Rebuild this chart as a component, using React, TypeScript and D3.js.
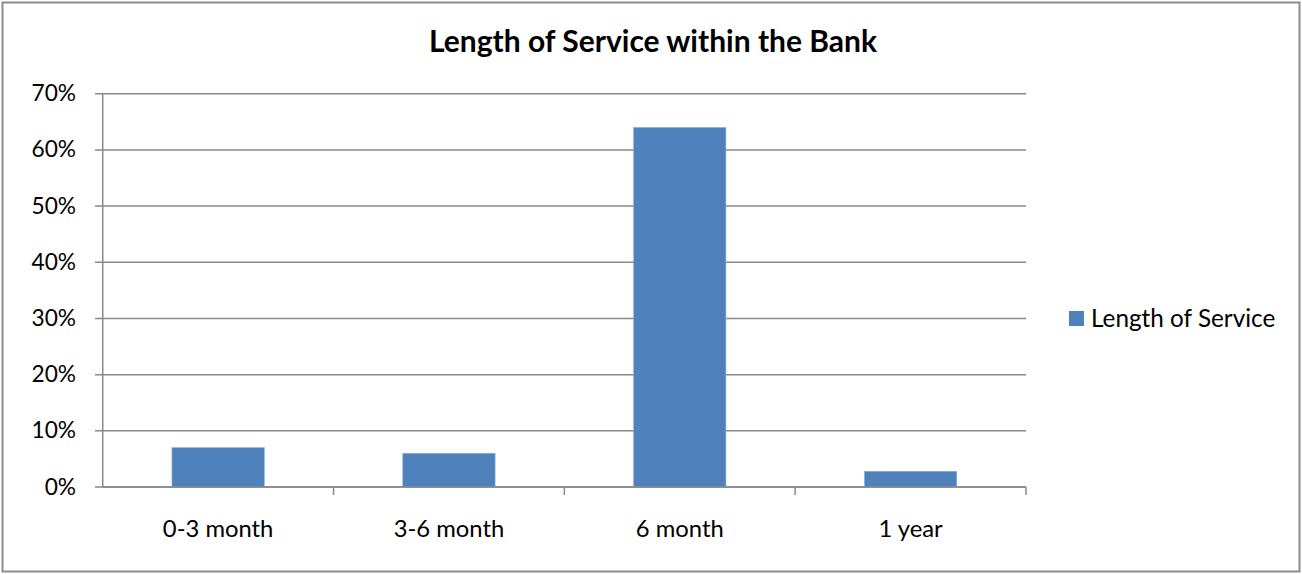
import React from "react";
import * as d3 from "d3";

const categories = ["0-3 month", "3-6 month", "6 month", "1 year"];
const values = [0.07, 0.06, 0.64, 0.028];
const yTicks = [0, 0.1, 0.2, 0.3, 0.4, 0.5, 0.6, 0.7];
const seriesName = "Length of Service";
const title = "Length of Service within the Bank";

const W = 1302;
const H = 574;
const FONT = "Lato, 'Open Sans', sans-serif";

export default function App() {
  const left = 102.7, right = 1026, top = 93.7, bottom = 487;
  const x = d3.scaleBand<string>().domain(categories).range([left, right]).paddingInner(0.6).paddingOuter(0.3);
  const y = d3.scaleLinear().domain([0, 0.7]).range([bottom, top]);
  const step = x.step();
  const fmt = d3.format(".0%");
  const grid = "#888888";
  return (
    <svg width={W} height={H} style={{ position: "absolute", left: 0, top: 0, background: "#fff" }}>
      <rect x={2.5} y={2.5} width={W - 5} height={H - 5} fill="#fff" stroke="#8c8c8c" strokeWidth={2} />
      <text x={653} y={52} textAnchor="middle" fontFamily={FONT} fontWeight="bold" fontSize={30} fill="#000">{title}</text>
      {yTicks.map((t) => (
        <g key={t}>
          <line x1={95} x2={right} y1={y(t)} y2={y(t)} stroke={grid} strokeWidth={1.5} />
          <text x={76} y={y(t) + 7.5} textAnchor="end" fontFamily={FONT} fontSize={22.7} fill="#000">{fmt(t)}</text>
        </g>
      ))}
      <line x1={left} x2={left} y1={top} y2={bottom} stroke={grid} strokeWidth={1.5} />
      {categories.map((c, i) => (
        <line key={"t" + i} x1={left + step * (i + 1)} x2={left + step * (i + 1)} y1={bottom} y2={bottom + 8} stroke={grid} strokeWidth={1.5} />
      ))}
      {categories.map((c, i) => (
        <rect key={"b" + i} x={x(c)} y={y(values[i])} width={x.bandwidth()} height={bottom - y(values[i])} fill="#4F81BD" stroke="#8fb0d8" strokeWidth={0.6} />
      ))}
      <line x1={left} x2={right} y1={bottom} y2={bottom} stroke={grid} strokeWidth={1.5} />
      {categories.map((c, i) => (
        <text key={"l" + i} x={(x(c) as number) + x.bandwidth() / 2} y={537} textAnchor="middle" fontFamily={FONT} fontSize={23.8} fill="#000">{c}</text>
      ))}
      <rect x={1069} y={311} width={15} height={15} fill="#4F81BD" />
      <text x={1091} y={327} fontFamily={FONT} fontSize={24.3} fill="#000">{seriesName}</text>
    </svg>
  );
}
